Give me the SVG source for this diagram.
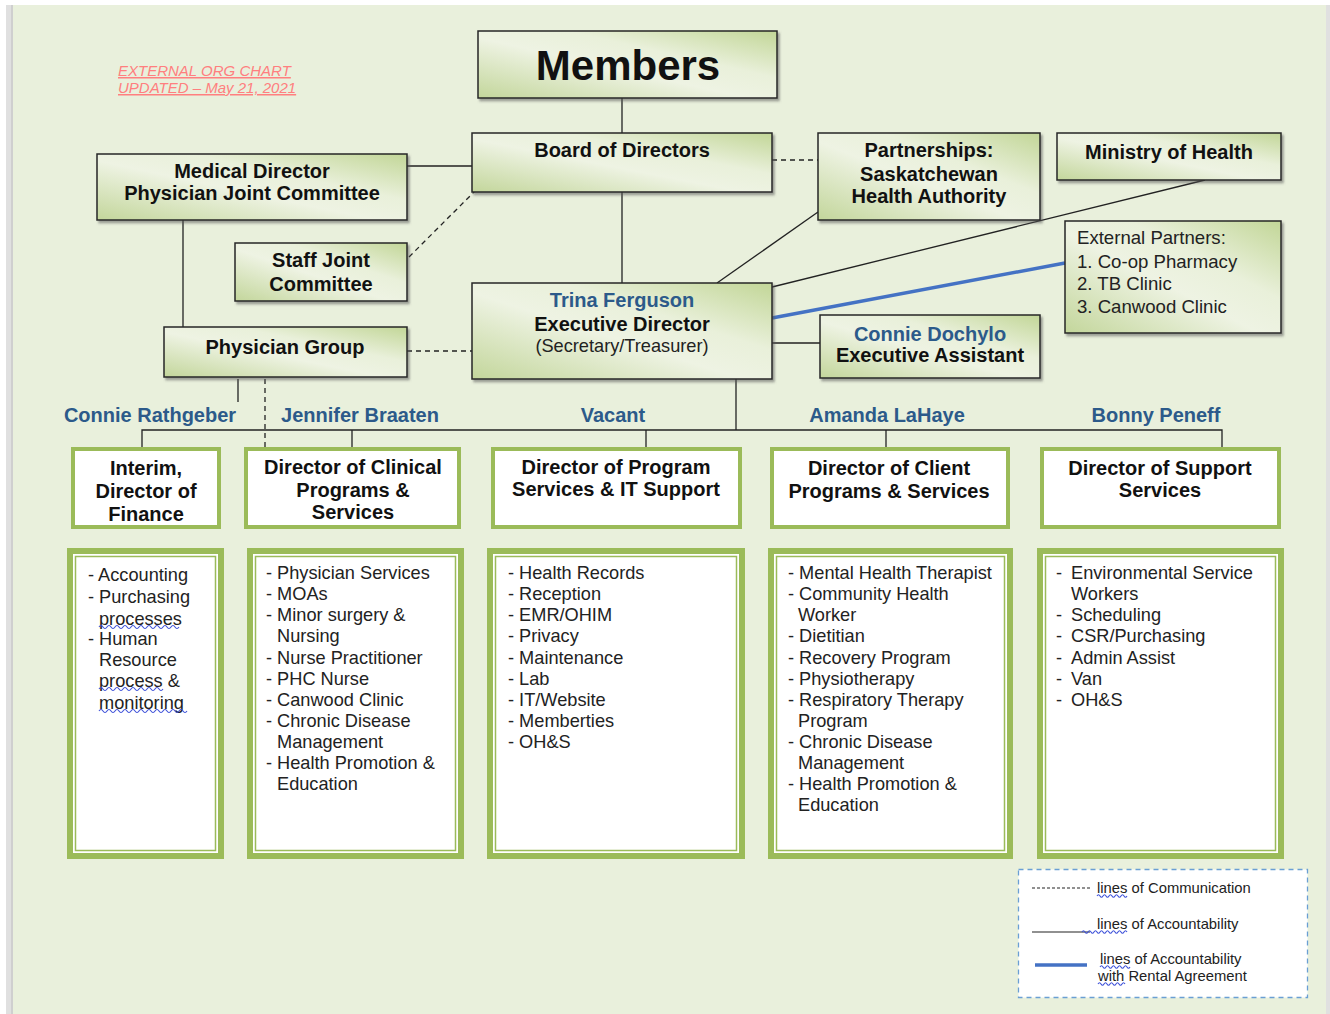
<svg xmlns="http://www.w3.org/2000/svg" width="1330" height="1014" viewBox="0 0 1330 1014">
<defs>
<linearGradient id="g" x1="0" y1="1" x2="1" y2="0">
<stop offset="0" stop-color="#c3d69b"/>
<stop offset="0.45" stop-color="#eef3e3"/>
<stop offset="0.65" stop-color="#e9f0da"/>
<stop offset="1" stop-color="#c2d697"/>
</linearGradient>
<filter id="sh" x="-5%" y="-5%" width="115%" height="125%">
<feDropShadow dx="2" dy="2.5" stdDeviation="1" flood-color="#555" flood-opacity="0.55"/>
</filter>
<style>
.n{fill:url(#g);stroke:#262626;stroke-width:1.5;filter:url(#sh)}
.d{fill:#fff;stroke:#9bbb59;stroke-width:4}
.t{font-family:"Liberation Sans",Arial,sans-serif;font-weight:bold;font-size:20px;fill:#111;text-anchor:middle}
.nm{font-family:"Liberation Sans",Arial,sans-serif;font-weight:bold;font-size:20px;fill:#2c5a8a;text-anchor:middle}
.r{font-family:"Liberation Sans",Arial,sans-serif;font-size:18.2px;fill:#222}
.ep{font-family:"Liberation Sans",Arial,sans-serif;font-size:18.6px;fill:#222}
.big{font-family:"Liberation Sans",Arial,sans-serif;font-weight:bold;font-size:42px;fill:#111;text-anchor:middle}
.lg{font-family:"Liberation Sans",Arial,sans-serif;font-size:14.8px;fill:#222}
.c{stroke:#222;stroke-width:1.3;fill:none}
.cd{stroke:#222;stroke-width:1.3;fill:none;stroke-dasharray:5 4}
.wv{stroke:#3b4fd8;stroke-width:1.1;fill:none}
</style>
</defs>
<rect x="0" y="0" width="1330" height="1014" fill="#ffffff"/>
<rect x="6" y="5" width="1324" height="1009" fill="#e0e0e0"/>
<rect x="11" y="5" width="2" height="1009" fill="#cfcfcf"/>
<rect x="13" y="5" width="1313" height="1009" fill="#e9f0dc"/>

<g id="title" font-family="Liberation Sans, Arial, sans-serif" font-style="italic" font-size="15" fill="#ff7f7f" text-decoration="underline">
<text x="118" y="76">EXTERNAL ORG CHART</text>
<text x="118" y="93">UPDATED – May 21, 2021</text>
</g>

<g id="connectors">
<line class="c" x1="622" y1="98" x2="622" y2="133"/>
<line class="c" x1="407" y1="166" x2="472" y2="166"/>
<line class="cd" x1="409" y1="257" x2="480" y2="186"/>
<line class="cd" x1="772" y1="160" x2="818" y2="160"/>
<line class="c" x1="622" y1="192" x2="622" y2="283"/>
<line class="c" x1="818" y1="212" x2="717" y2="283"/>
<line class="c" x1="1205" y1="180" x2="772" y2="287"/>
<line x1="772" y1="318" x2="1065" y2="263" stroke="#4472c4" stroke-width="3.5"/>
<line class="c" x1="772" y1="343" x2="820" y2="343"/>
<line class="c" x1="183" y1="220" x2="183" y2="327"/>
<line class="cd" x1="407" y1="351" x2="472" y2="351"/>
<line class="c" x1="238" y1="379" x2="238" y2="402"/>
<line class="cd" x1="265" y1="379" x2="265" y2="447"/>
<line class="c" x1="736" y1="379" x2="736" y2="430"/>
<polyline class="c" points="142,447 142,430 1222,430 1222,447"/>
<line class="c" x1="352" y1="430" x2="352" y2="447"/>
<line class="c" x1="646" y1="430" x2="646" y2="447"/>
<line class="c" x1="886" y1="430" x2="886" y2="447"/>
</g>

<g id="members"><rect class="n" x="478" y="31" width="299" height="67"/><text class="big" x="628" y="80">Members</text></g>
<g id="board"><rect class="n" x="472" y="133" width="300" height="59"/><text class="t" x="622" y="157">Board of Directors</text></g>
<g id="medical-director"><rect class="n" x="97" y="154" width="310" height="66"/><text class="t" x="252" y="178">Medical Director</text><text class="t" x="252" y="200">Physician Joint Committee</text></g>
<g id="staff-joint"><rect class="n" x="235" y="243" width="172" height="58"/><text class="t" x="321" y="267">Staff Joint</text><text class="t" x="321" y="291">Committee</text></g>
<g id="partnerships"><rect class="n" x="818" y="133" width="222" height="87"/><text class="t" x="929" y="157">Partnerships:</text><text class="t" x="929" y="181">Saskatchewan</text><text class="t" x="929" y="203">Health Authority</text></g>
<g id="ministry"><rect class="n" x="1057" y="133" width="224" height="47"/><text class="t" x="1169" y="159">Ministry of Health</text></g>
<g id="external"><rect class="n" x="1065" y="221" width="216" height="112"/>
<text class="ep" x="1077" y="244">External Partners:</text>
<text class="ep" x="1077" y="268">1. Co-op Pharmacy</text>
<text class="ep" x="1077" y="290">2. TB Clinic</text>
<text class="ep" x="1077" y="313">3. Canwood Clinic</text></g>
<g id="executive-director"><rect class="n" x="472" y="283" width="300" height="96"/><text class="nm" x="622" y="307">Trina Ferguson</text><text class="t" x="622" y="331">Executive Director</text><text class="r" x="622" y="352" text-anchor="middle">(Secretary/Treasurer)</text></g>
<g id="exec-assistant"><rect class="n" x="820" y="315" width="220" height="63"/><text class="nm" x="930" y="341">Connie Dochylo</text><text class="t" x="930" y="362">Executive Assistant</text></g>
<g id="physician-group"><rect class="n" x="164" y="327" width="243" height="50"/><text class="t" x="285" y="354">Physician Group</text></g>

<g id="names">
<text class="nm" x="150" y="422">Connie Rathgeber</text>
<text class="nm" x="360" y="422">Jennifer Braaten</text>
<text class="nm" x="613" y="422">Vacant</text>
<text class="nm" x="887" y="422">Amanda LaHaye</text>
<text class="nm" x="1156" y="422">Bonny Peneff</text>
</g>

<g id="dir-finance"><rect class="d" x="73" y="449" width="146" height="78"/><text class="t" x="146" y="475">Interim,</text><text class="t" x="146" y="498">Director of</text><text class="t" x="146" y="521">Finance</text></g>
<g id="dir-clinical"><rect class="d" x="246" y="449" width="213" height="78"/><text class="t" x="353" y="474">Director of Clinical</text><text class="t" x="353" y="497">Programs &amp;</text><text class="t" x="353" y="519">Services</text></g>
<g id="dir-program"><rect class="d" x="493" y="449" width="247" height="78"/><text class="t" x="616" y="474">Director of Program</text><text class="t" x="616" y="496">Services &amp; IT Support</text></g>
<g id="dir-client"><rect class="d" x="772" y="449" width="236" height="78"/><text class="t" x="889" y="475">Director of Client</text><text class="t" x="889" y="498">Programs &amp; Services</text></g>
<g id="dir-support"><rect class="d" x="1042" y="449" width="237" height="78"/><text class="t" x="1160" y="475">Director of Support</text><text class="t" x="1160" y="497">Services</text></g>

<g id="list-finance">
<rect x="67" y="548" width="157" height="311" fill="#9bbb59"/><rect x="73" y="554" width="145" height="299" fill="#fff"/><rect x="75.5" y="556.5" width="140" height="294" fill="#fff" stroke="#9bbb59" stroke-width="1.5"/>
<text class="r" x="88" y="581">- Accounting</text>
<text class="r" x="88" y="603">- Purchasing</text>
<text class="r" x="99" y="625">processes</text>
<text class="r" x="88" y="645">- Human</text>
<text class="r" x="99" y="666">Resource</text>
<text class="r" x="99" y="687">process &amp;</text>
<text class="r" x="99" y="709">monitoring</text>
<path class="wv" d="M99,627 q2,-3 4,0 t4,0 t4,0 t4,0 t4,0 t4,0 t4,0 t4,0 t4,0 t4,0 t4,0 t4,0 t4,0 t4,0 t4,0 t4,0 t4,0 t4,0 t4,0 t4,0"/>
<path class="wv" d="M99,689 q2,-3 4,0 t4,0 t4,0 t4,0 t4,0 t4,0 t4,0 t4,0 t4,0 t4,0 t4,0 t4,0 t4,0 t4,0 t4,0 t4,0"/>
<path class="wv" d="M99,711 q2,-3 4,0 t4,0 t4,0 t4,0 t4,0 t4,0 t4,0 t4,0 t4,0 t4,0 t4,0 t4,0 t4,0 t4,0 t4,0 t4,0 t4,0 t4,0 t4,0 t4,0 t4,0 t4,0"/>
</g>

<g id="list-clinical">
<rect x="247" y="548" width="217" height="311" fill="#9bbb59"/><rect x="253" y="554" width="205" height="299" fill="#fff"/><rect x="255.5" y="556.5" width="200" height="294" fill="#fff" stroke="#9bbb59" stroke-width="1.5"/>
<text class="r" x="266" y="579">- Physician Services</text>
<text class="r" x="266" y="600">- MOAs</text>
<text class="r" x="266" y="621">- Minor surgery &amp;</text>
<text class="r" x="277" y="642">Nursing</text>
<text class="r" x="266" y="664">- Nurse Practitioner</text>
<text class="r" x="266" y="685">- PHC Nurse</text>
<text class="r" x="266" y="706">- Canwood Clinic</text>
<text class="r" x="266" y="727">- Chronic Disease</text>
<text class="r" x="277" y="748">Management</text>
<text class="r" x="266" y="769">- Health Promotion &amp;</text>
<text class="r" x="277" y="790">Education</text>
</g>

<g id="list-program">
<rect x="487" y="548" width="258" height="311" fill="#9bbb59"/><rect x="493" y="554" width="246" height="299" fill="#fff"/><rect x="495.5" y="556.5" width="241" height="294" fill="#fff" stroke="#9bbb59" stroke-width="1.5"/>
<text class="r" x="508" y="579">- Health Records</text>
<text class="r" x="508" y="600">- Reception</text>
<text class="r" x="508" y="621">- EMR/OHIM</text>
<text class="r" x="508" y="642">- Privacy</text>
<text class="r" x="508" y="664">- Maintenance</text>
<text class="r" x="508" y="685">- Lab</text>
<text class="r" x="508" y="706">- IT/Website</text>
<text class="r" x="508" y="727">- Memberties</text>
<text class="r" x="508" y="748">- OH&amp;S</text>
</g>

<g id="list-client">
<rect x="768" y="548" width="245" height="311" fill="#9bbb59"/><rect x="774" y="554" width="233" height="299" fill="#fff"/><rect x="776.5" y="556.5" width="228" height="294" fill="#fff" stroke="#9bbb59" stroke-width="1.5"/>
<text class="r" x="788" y="579">- Mental Health Therapist</text>
<text class="r" x="788" y="600">- Community Health</text>
<text class="r" x="798" y="621">Worker</text>
<text class="r" x="788" y="642">- Dietitian</text>
<text class="r" x="788" y="664">- Recovery Program</text>
<text class="r" x="788" y="685">- Physiotherapy</text>
<text class="r" x="788" y="706">- Respiratory Therapy</text>
<text class="r" x="798" y="727">Program</text>
<text class="r" x="788" y="748">- Chronic Disease</text>
<text class="r" x="798" y="769">Management</text>
<text class="r" x="788" y="790">- Health Promotion &amp;</text>
<text class="r" x="798" y="811">Education</text>
</g>

<g id="list-support">
<rect x="1037" y="548" width="247" height="311" fill="#9bbb59"/><rect x="1043" y="554" width="235" height="299" fill="#fff"/><rect x="1045.5" y="556.5" width="230" height="294" fill="#fff" stroke="#9bbb59" stroke-width="1.5"/>
<text class="r" x="1056" y="579">-</text><text class="r" x="1071" y="579">Environmental Service</text>
<text class="r" x="1071" y="600">Workers</text>
<text class="r" x="1056" y="621">-</text><text class="r" x="1071" y="621">Scheduling</text>
<text class="r" x="1056" y="642">-</text><text class="r" x="1071" y="642">CSR/Purchasing</text>
<text class="r" x="1056" y="664">-</text><text class="r" x="1071" y="664">Admin Assist</text>
<text class="r" x="1056" y="685">-</text><text class="r" x="1071" y="685">Van</text>
<text class="r" x="1056" y="706">-</text><text class="r" x="1071" y="706">OH&amp;S</text>
</g>

<g id="legend">
<rect x="1018.5" y="869.5" width="289" height="128" fill="#fff" stroke="#6a9fd4" stroke-width="1.3" stroke-dasharray="5 4"/>
<line x1="1032" y1="888" x2="1090" y2="888" stroke="#222" stroke-width="1.2" stroke-dasharray="3 2"/>
<text class="lg" x="1097" y="893">lines of Communication</text>
<line x1="1032" y1="932" x2="1090" y2="932" stroke="#222" stroke-width="1.2"/>
<text class="lg" x="1097" y="929">lines of Accountability</text>
<line x1="1035" y1="965" x2="1087" y2="965" stroke="#4472c4" stroke-width="3.5"/>
<text class="lg" x="1100" y="964">lines of Accountability</text>
<text class="lg" x="1098" y="981">with Rental Agreement</text>
<path class="wv" d="M1097,896 q1.5,-2.5 3,0 t3,0 t3,0 t3,0 t3,0 t3,0 t3,0 t3,0 t3,0 t3,0"/>
<path class="wv" d="M1082,932 q1.5,-2.5 3,0 t3,0 t3,0 t3,0 t3,0 t3,0 t3,0 t3,0 t3,0 t3,0 t3,0 t3,0 t3,0 t3,0 t3,0"/>
<path class="wv" d="M1100,967 q1.5,-2.5 3,0 t3,0 t3,0 t3,0 t3,0 t3,0 t3,0 t3,0 t3,0 t3,0"/>
<path class="wv" d="M1098,984 q1.5,-2.5 3,0 t3,0 t3,0 t3,0 t3,0 t3,0 t3,0 t3,0 t3,0"/>
</g>
</svg>
